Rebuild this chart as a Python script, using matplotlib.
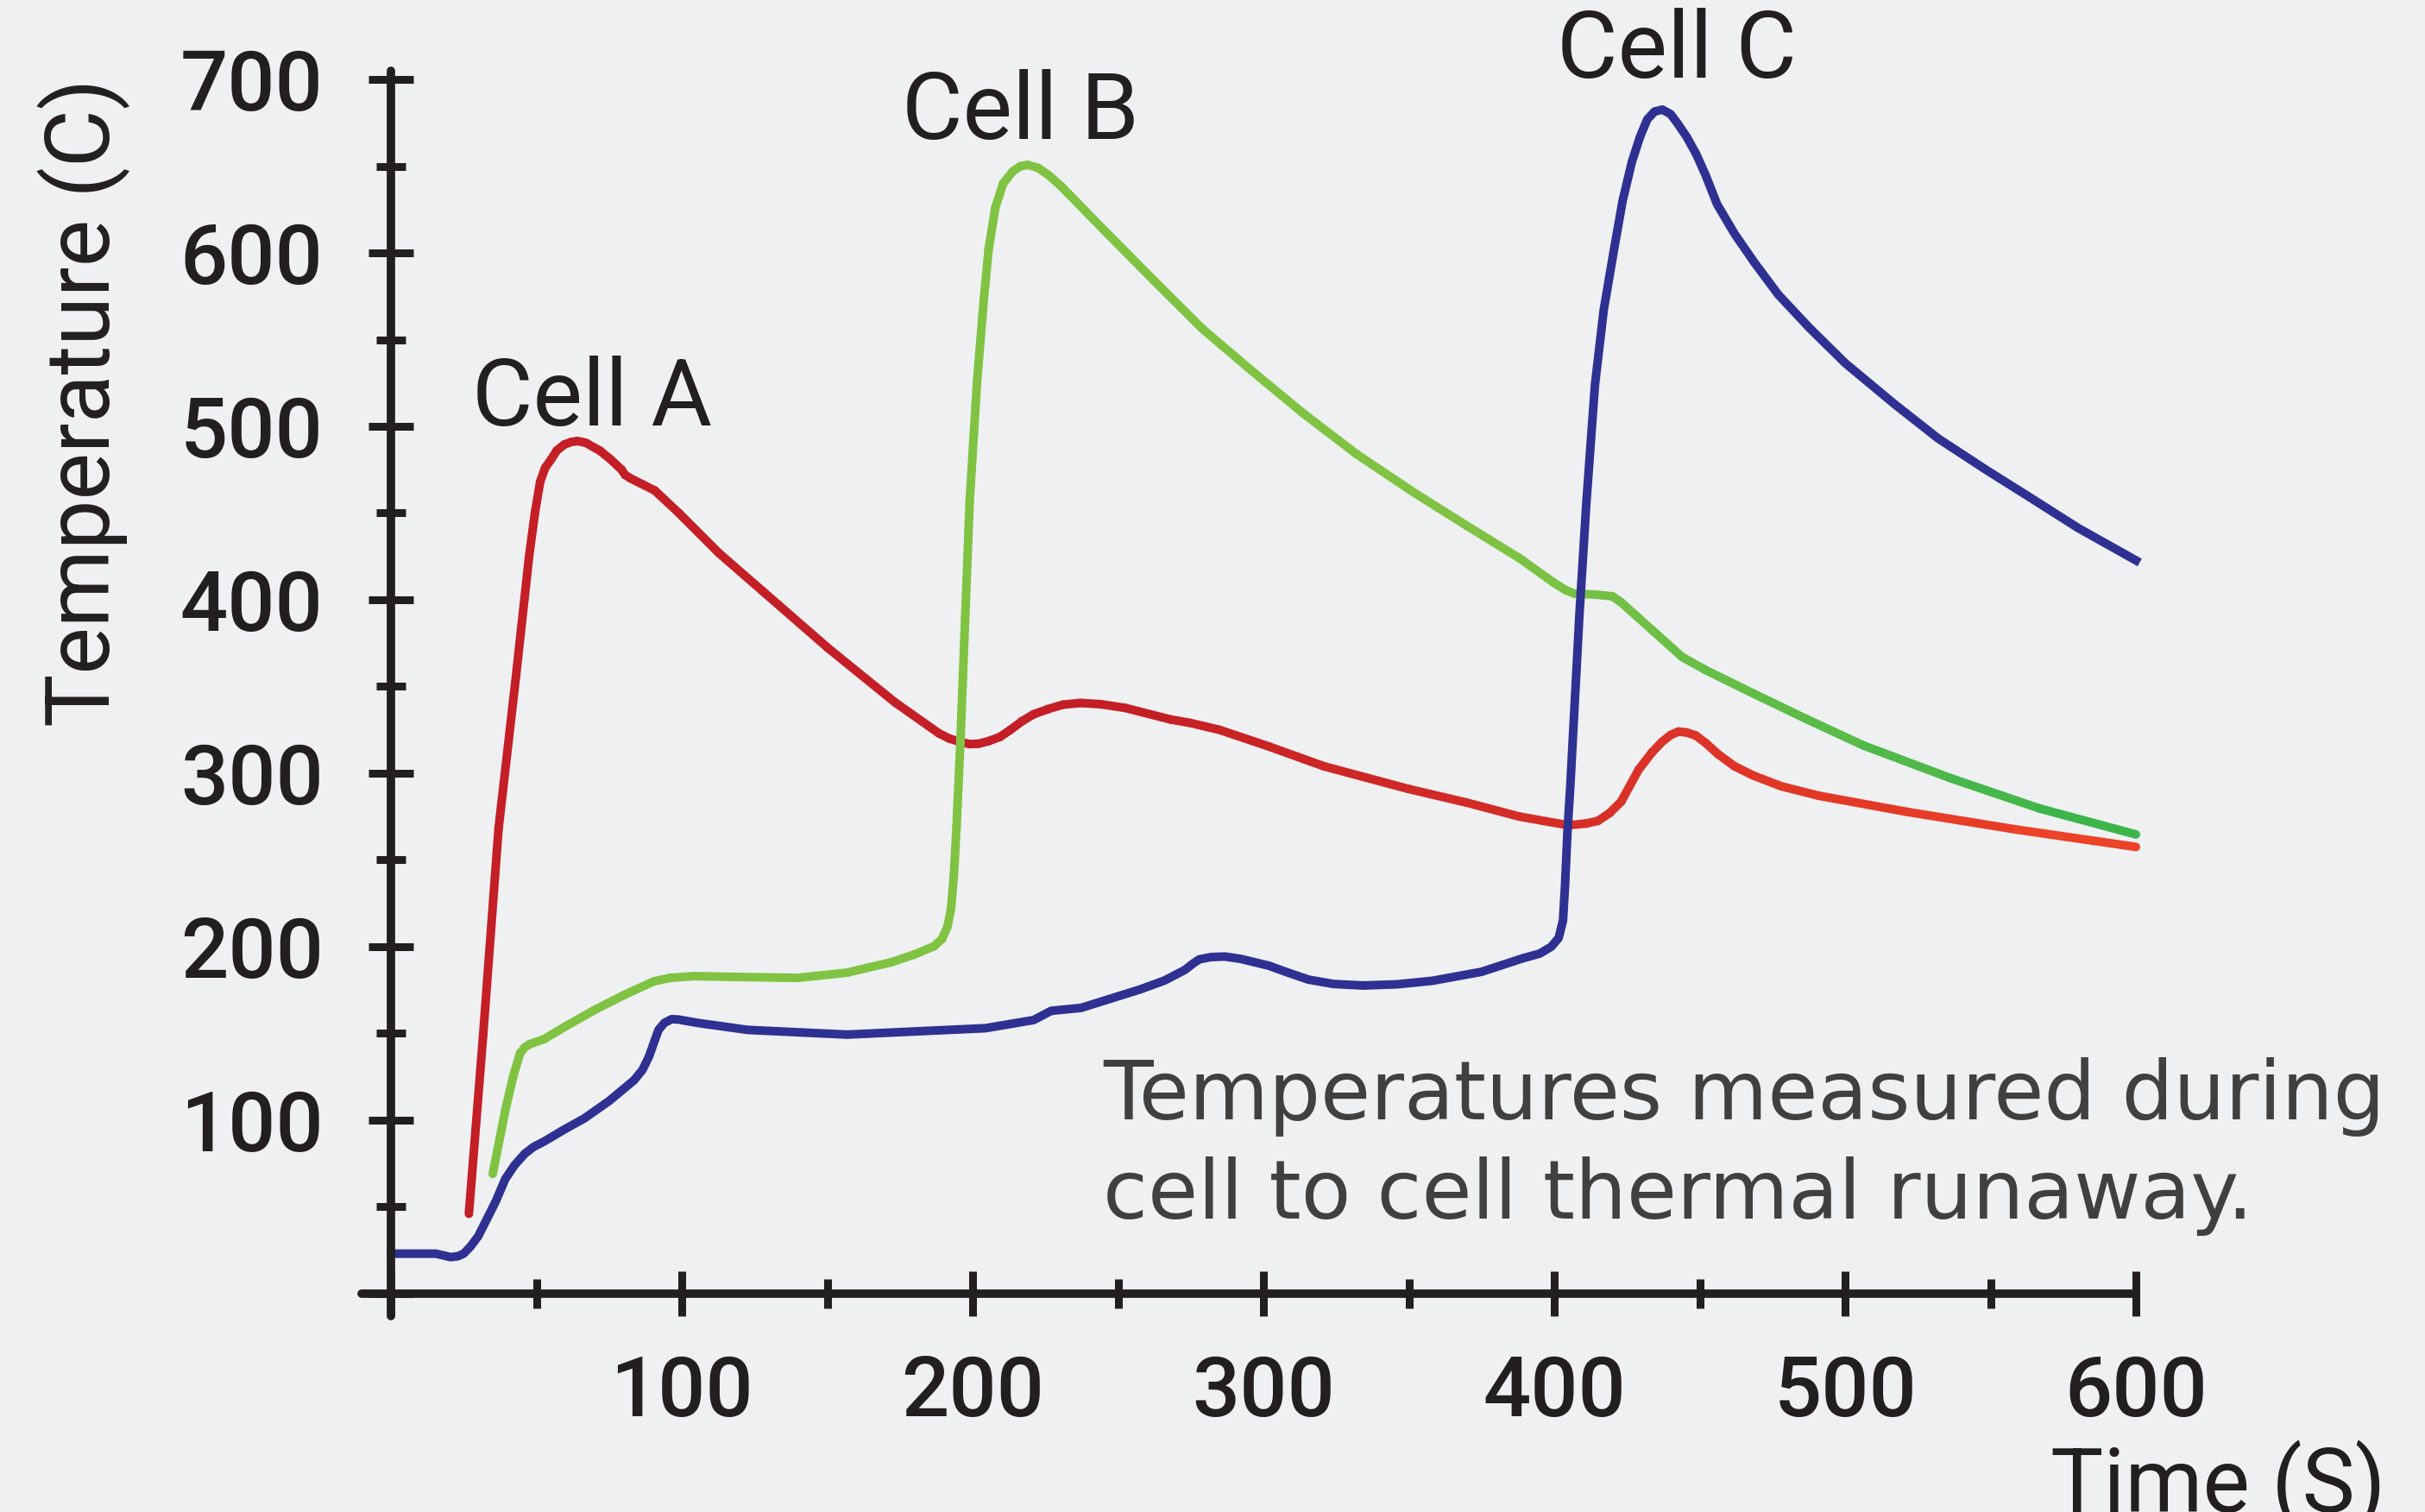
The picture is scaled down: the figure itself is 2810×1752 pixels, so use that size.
import numpy as np
import matplotlib
matplotlib.use("Agg")
import matplotlib.pyplot as plt
from matplotlib.collections import LineCollection
from matplotlib.colors import to_rgb

plt.rcParams['font.family'] = ['Roboto', 'DejaVu Sans']

# Cell A (red): time (s), temperature (C)
cell_a_time = [26.8, 31.7, 37, 43, 47.5, 49.5, 51.3, 53, 55.1, 57, 59.6, 62,
               64.2, 67, 71.8, 75.5, 79.3, 80.5, 82.4, 90.7, 99, 112.7, 127.8,
               150.4, 173.2, 188.4, 192, 195.8, 199, 202, 205.5, 209.5, 213, 217,
               221, 226, 231, 237, 244, 252.6, 268, 274.8, 284.9, 301.9, 320.8,
               349.7, 370, 388, 404.8, 411, 415, 419, 423, 429, 433.6, 437, 440,
               442.7, 445.5, 448.7, 452, 456.3, 462, 468.4, 478, 491, 521, 559,
               600]
cell_a_temp = [46, 149, 268, 356, 425, 450, 468, 476, 481, 486, 489.5, 491,
               491.5, 490.5, 486, 481, 475, 472, 470, 463, 450, 427, 405,
               372, 341, 323, 320, 318, 316.8, 317, 318.5, 321, 325, 330,
               334, 337, 339.5, 340.5, 339.8, 337.6, 331, 329, 325, 315.4, 304,
               291, 283, 275, 270, 271, 272.5, 277, 283.6, 302, 312, 318, 322,
               324, 323.5, 321.7, 317.5, 311, 304, 298.7, 292.5, 287, 277.8, 267.5,
               257.5]

# Cell B (green)
cell_b_time = [35, 39.3, 42, 44.4, 46, 47.8, 52.8, 60, 69.9, 80, 90.4, 96, 104,
               120, 139.8, 156.8, 172, 180, 186.8, 189.5, 191.4, 192.6, 193.6,
               194.5, 195.8, 199, 201.5, 203.9, 205.5, 207.8, 210.5, 213.8,
               216.5, 219, 222.5, 226, 230.4, 245.6, 262.2, 278.9, 296, 313.6,
               332, 351.6, 370, 388, 399.7, 404, 407, 414, 420, 423, 428, 433.6,
               439, 444, 452, 468.4, 487, 506.3, 536.5, 566.8, 600]
cell_b_temp = [69, 105.5, 125, 138.5, 142, 143.8, 146.8, 154, 163.4, 172, 180,
               182, 183, 182.5, 182, 185, 191, 195.5, 200.3, 204.5, 211.7, 222,
               242, 270, 318, 457, 525, 574, 602, 626, 640, 647,
               650, 650.7, 649, 645, 638.5, 612.4, 584.3, 556.4, 532, 507.6,
               484, 462, 442.6, 424, 410, 405.5, 403.5, 403, 402, 398.5, 391,
               382.6, 374.5, 367, 359.5, 346, 331, 316, 297, 279.7, 264.7]

# Cell C (blue)
cell_c_time = [0, 15.4, 18, 20.5, 23, 25, 27.3, 30, 32.5, 36, 39.3, 42.5, 46,
               49, 52.8, 59, 66.5, 75, 83.6, 86.5, 88.7, 90.5, 92, 94, 96.5,
               98.8, 105.6, 122.7, 156.8, 204.5, 221, 227, 237.3, 257.7, 266,
               273, 276, 278, 282, 286.7, 292, 297, 301.9, 308.5, 315.5, 324,
               334.4, 346, 358, 375, 389, 395, 399, 401.5, 403, 403.7, 404.5,
               405.6, 408.6, 411, 414, 417, 420.5, 423.5, 426.7, 429.5, 432,
               434.5, 437.2, 440, 442.4, 445.5, 448.8, 452, 456, 462, 468.7, 477,
               487.6, 500, 517, 532, 548.6, 565, 580, 600]
cell_c_temp = [23, 23, 22, 21, 21.5, 23, 27, 33, 41.3, 53, 66, 74, 80.6,
               84.5, 87.8, 94, 101, 111, 123, 129, 136.5, 145, 152, 156, 158.2,
               158, 156, 152, 149.3, 153, 157.7, 163, 164.7, 175.4, 180.5,
               186.6, 190.5, 192.7, 194, 194.3, 193, 191, 189, 185, 181, 178.5,
               177.6, 178.3, 180.3, 185.5, 193.2, 196, 200, 205, 215, 235, 265,
               295, 390, 455, 524, 567, 601.5, 630, 652.5, 667, 677,
               681.5, 682.6, 680, 674.6, 667, 657, 645, 628, 611, 594.7, 576,
               557, 536.5, 512.8, 493, 474.8, 457.5, 441.5, 422.7]

x_major = [0, 100, 200, 300, 400, 500, 600]
x_labels = ['', '100', '200', '300', '400', '500', '600']
x_minor = [50, 150, 250, 350, 450, 550]
y_major = [0, 100, 200, 300, 400, 500, 600, 700]
y_labels = ['', '100', '200', '300', '400', '500', '600', '700']
y_minor = [50, 150, 250, 350, 450, 550, 650]

INK = '#231f20'
BG = '#eff0f2'
LW = 7.2


def gradient_line(ax, t, temp, c_start, c_end, t_from, t_to, lw):
    # colour drifts along the time axis, like the original artwork
    t = np.asarray(t, float)
    temp = np.asarray(temp, float)
    pts = np.column_stack([t, temp]).reshape(-1, 1, 2)
    segs = np.concatenate([pts[:-1], pts[1:]], axis=1)
    mid = (t[:-1] + t[1:]) / 2
    f = np.clip((mid - t_from) / (t_to - t_from), 0, 1)[:, None]
    cols = (1 - f) * np.array(to_rgb(c_start)) + f * np.array(to_rgb(c_end))
    lc = LineCollection(segs, colors=cols, linewidths=lw, capstyle='round',
                        joinstyle='round', clip_on=False)
    ax.add_collection(lc)


fig = plt.figure(figsize=(28.1, 17.52), dpi=100, facecolor=BG)
ax = fig.add_axes([0.14922, 0.12957, 0.73157, 0.82363])
ax.set_facecolor(BG)

gradient_line(ax, cell_a_time, cell_a_temp, '#c41e26', '#ee4428', 250, 600, LW)
gradient_line(ax, cell_b_time, cell_b_temp, '#80c343', '#36b44c', 380, 600, LW)
ax.plot(cell_c_time, cell_c_temp, color='#2e3192', lw=LW,
        solid_joinstyle='round', clip_on=False)

ax.set_xlim(-10, 600)
ax.set_ylim(-13, 705)

ax.spines[['top', 'right']].set_visible(False)
for s in ['left', 'bottom']:
    ax.spines[s].set_position(('data', 0))
    ax.spines[s].set_linewidth(7)
    ax.spines[s].set_color(INK)
    ax.spines[s].set_capstyle('round')

ax.set_xticks(x_major)
ax.set_xticklabels(x_labels)
ax.set_xticks(x_minor, minor=True)
ax.set_yticks(y_major)
ax.set_yticklabels(y_labels)
ax.set_yticks(y_minor, minor=True)

ax.tick_params(which='both', direction='inout', color=INK, width=6.5,
               labelcolor=INK)
ax.tick_params(which='major', length=37, labelsize=70)
ax.tick_params(which='minor', length=25)
ax.tick_params(axis='x', which='major', pad=32)
ax.tick_params(axis='y', which='major', pad=38)
for lab in ax.get_xticklabels() + ax.get_yticklabels():
    lab.set_fontweight('medium')

ax.text(27.9, 500.5, 'Cell A', fontsize=78, color=INK, va='baseline')
ax.text(175.7, 665.7, 'Cell B', fontsize=78, color=INK, va='baseline')
ax.text(401, 701, 'Cell C', fontsize=78, color=INK, va='baseline')

note_font = ['DejaVu Sans']
ax.text(244.8, 100.2, 'Temperatures measured during', fontsize=68,
        family=note_font, color='#404040', va='baseline')
ax.text(244.8, 43.3, 'cell to cell thermal runaway.', fontsize=68,
        family=note_font, color='#404040', va='baseline')

fig.text(0.0345, 0.734, 'Temperature (C)', rotation=90, fontsize=74,
         color=INK, ha='center', va='center')
fig.text(0.8456, 0.0, 'Time (S)', fontsize=74, color=INK,
         ha='left', va='baseline')

fig.savefig('out.png', dpi=100, facecolor=BG)
